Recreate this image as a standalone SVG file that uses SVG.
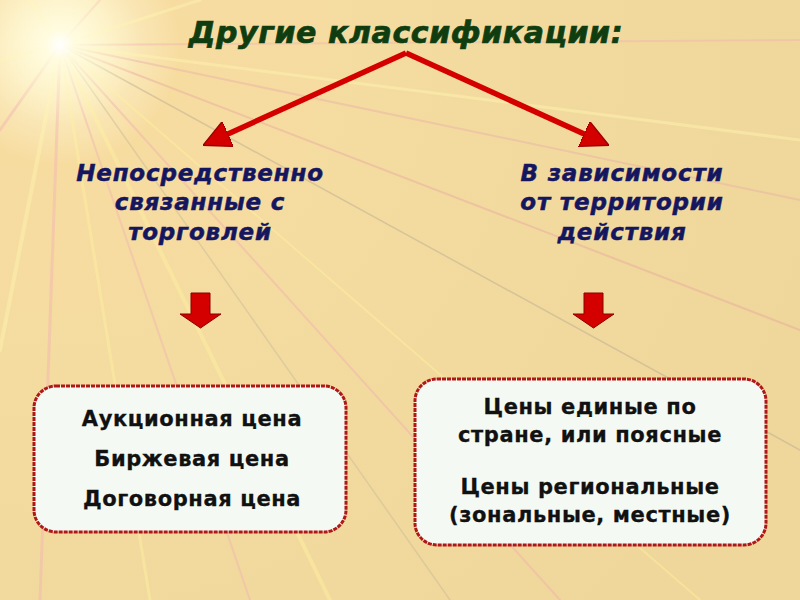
<svg xmlns="http://www.w3.org/2000/svg" width="800" height="600" viewBox="0 0 800 600">
<defs>
<radialGradient id="bg" cx="60" cy="45" r="800" gradientUnits="userSpaceOnUse">
<stop offset="0" stop-color="#fffbe0"/>
<stop offset="0.15" stop-color="#f7dca0"/>
<stop offset="0.5" stop-color="#f3dba0"/>
<stop offset="1" stop-color="#efd69a"/>
</radialGradient>
<radialGradient id="star" cx="60" cy="45" r="80" gradientUnits="userSpaceOnUse">
<stop offset="0" stop-color="#ffffff" stop-opacity="1"/>
<stop offset="0.2" stop-color="#fffce0" stop-opacity="0.9"/>
<stop offset="1" stop-color="#fff4c0" stop-opacity="0"/>
</radialGradient>
<marker id="ah" viewBox="0 0 10 10" refX="8" refY="5" markerWidth="5" markerHeight="5" orient="auto" markerUnits="strokeWidth">
<path d="M0,0 L10,5 L0,10 z" fill="#d40000" stroke="#9a0000" stroke-width="0.5"/>
</marker>
<style>
.title{font-family:"DejaVu Sans",sans-serif;font-weight:bold;font-style:italic;font-size:30px;fill:#0f3d10;stroke:#0f3d10;stroke-width:0.7px;letter-spacing:0.6px}
.head{font-family:"DejaVu Sans",sans-serif;font-weight:bold;font-style:italic;font-size:23px;fill:#141660;stroke:#141660;stroke-width:0.5px;text-anchor:middle;letter-spacing:0.8px}
.item{font-family:"DejaVu Sans",sans-serif;font-weight:bold;font-size:21px;fill:#111;stroke:#111;stroke-width:0.3px;text-anchor:middle;letter-spacing:0.6px}
.box{fill:#f4faf3;stroke:#b01818;stroke-width:3;stroke-dasharray:4 1}
.conn{fill:none;stroke:#d40000;stroke-width:5.5}
.barrow{fill:#d40000;stroke:#8a0000;stroke-width:1}
.ray{stroke-linecap:round}
</style>
</defs>
<rect width="800" height="600" fill="url(#bg)"/>
<g id="rays" opacity="0.45">
<line class="ray" x1="60" y1="45" x2="800" y2="330" stroke="#e8a8a0" stroke-width="2"/>
<line class="ray" x1="60" y1="45" x2="800" y2="450" stroke="#b8a890" stroke-width="1.5"/>
<line class="ray" x1="60" y1="45" x2="560" y2="600" stroke="#f0b0b0" stroke-width="2"/>
<line class="ray" x1="60" y1="45" x2="330" y2="600" stroke="#fff2a0" stroke-width="4"/>
<line class="ray" x1="60" y1="45" x2="150" y2="600" stroke="#fff2a0" stroke-width="3"/>
<line class="ray" x1="60" y1="45" x2="40" y2="600" stroke="#f3b4b4" stroke-width="3"/>
<line class="ray" x1="60" y1="45" x2="0" y2="350" stroke="#fff6b0" stroke-width="4"/>
<line class="ray" x1="60" y1="45" x2="0" y2="130" stroke="#f0b4b4" stroke-width="3"/>
<line class="ray" x1="60" y1="45" x2="0" y2="60" stroke="#fff6b0" stroke-width="3"/>
<line class="ray" x1="60" y1="45" x2="800" y2="40" stroke="#f0b4b4" stroke-width="2"/>
<line class="ray" x1="60" y1="45" x2="800" y2="140" stroke="#fff6b0" stroke-width="3"/>
<line class="ray" x1="60" y1="45" x2="800" y2="200" stroke="#e8b0a8" stroke-width="2"/>
<line class="ray" x1="60" y1="45" x2="200" y2="0" stroke="#fff6b0" stroke-width="3"/>
<line class="ray" x1="60" y1="45" x2="30" y2="0" stroke="#fff6b0" stroke-width="4"/>
<line class="ray" x1="60" y1="45" x2="100" y2="0" stroke="#f3b4b4" stroke-width="2"/>
<line class="ray" x1="60" y1="45" x2="450" y2="600" stroke="#c8b898" stroke-width="1.5"/>
<line class="ray" x1="60" y1="45" x2="250" y2="600" stroke="#f0b4b4" stroke-width="2"/>
<line class="ray" x1="60" y1="45" x2="700" y2="600" stroke="#fff2a0" stroke-width="2"/>
</g>
<circle cx="60" cy="45" r="80" fill="url(#star)"/>
<g id="title"><text class="title" x="406" y="43" text-anchor="middle">Другие классификации:</text></g>
<g id="connectors">
<polyline class="conn" points="406,53 208,143" marker-end="url(#ah)"/>
<polyline class="conn" points="406,53 604,143" marker-end="url(#ah)"/>
</g>
<g id="left-head">
<text class="head" x="200" y="181">Непосредственно</text>
<text class="head" x="200" y="210">связанные с</text>
<text class="head" x="200" y="240">торговлей</text>
</g>
<g id="right-head">
<text class="head" x="622" y="181">В зависимости</text>
<text class="head" x="622" y="210">от территории</text>
<text class="head" x="622" y="240">действия</text>
</g>
<g id="left-arrow"><path class="barrow" d="M191,293 H210 V314 H221 L200.5,328 L180,314 H191 Z"/></g>
<g id="right-arrow"><path class="barrow" d="M584,293 H603 V314 H614 L593.5,328 L573,314 H584 Z"/></g>
<g id="left-box">
<rect class="box" x="34" y="386" width="312" height="146" rx="22"/>
<text class="item" x="192" y="426">Аукционная цена</text>
<text class="item" x="192" y="466">Биржевая цена</text>
<text class="item" x="192" y="506">Договорная цена</text>
</g>
<g id="right-box">
<rect class="box" x="415" y="379" width="351" height="166" rx="22"/>
<text class="item" x="590" y="414">Цены единые по</text>
<text class="item" x="590" y="442">стране, или поясные</text>
<text class="item" x="590" y="494">Цены региональные</text>
<text class="item" x="590" y="522">(зональные, местные)</text>
</g>
</svg>
